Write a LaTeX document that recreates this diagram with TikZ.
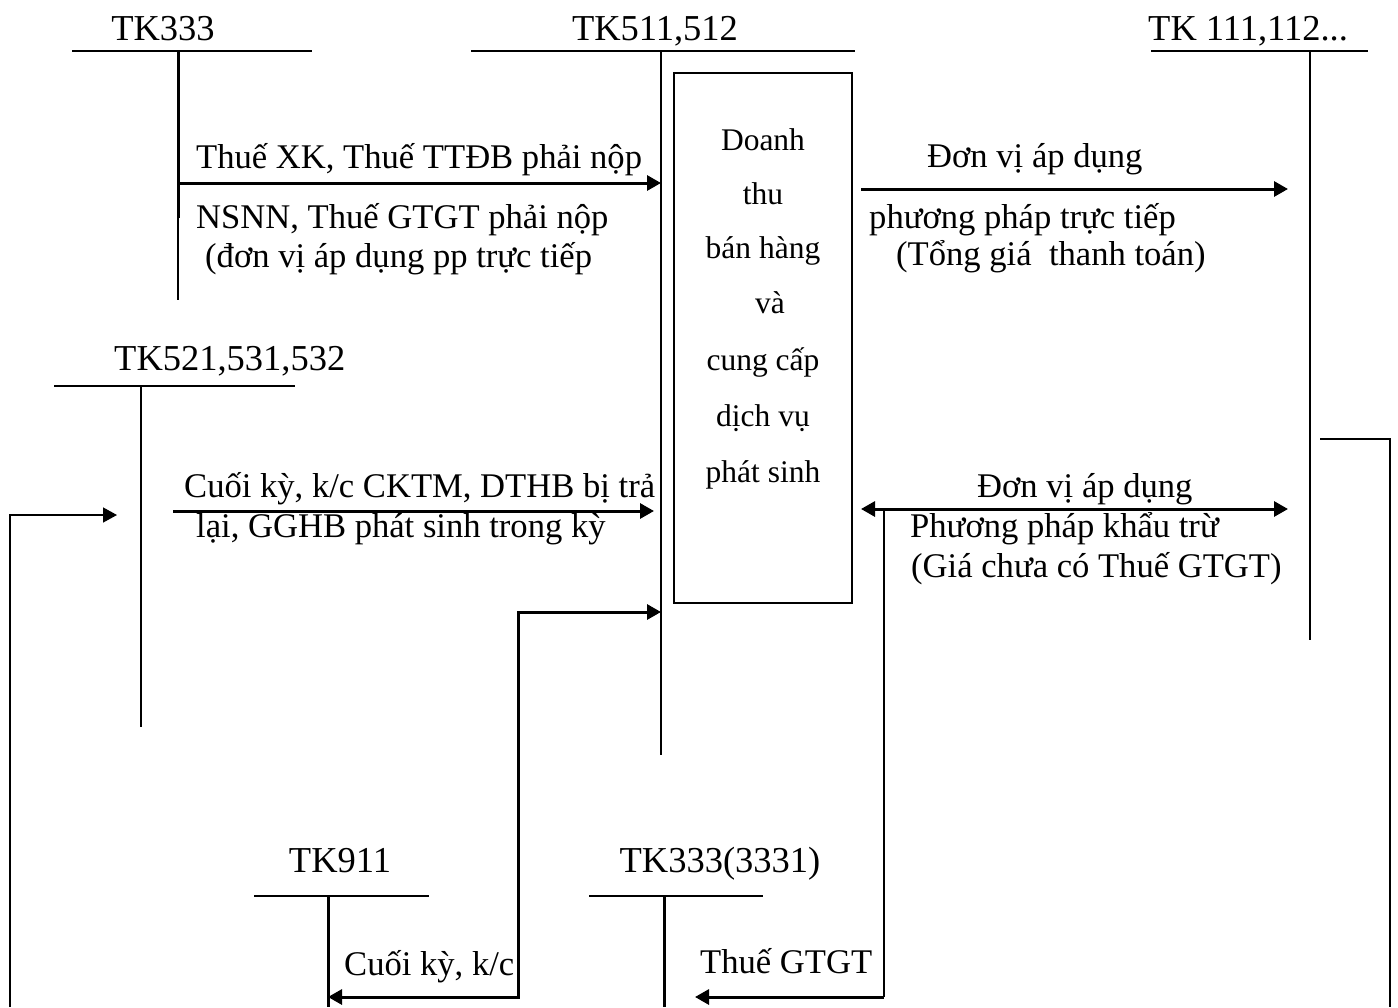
\documentclass[tikz,border=0pt]{standalone}
\usepackage{fontspec}
\setmainfont{Liberation Serif}
\usetikzlibrary{arrows.meta}
\tikzset{
  txt/.style={inner sep=0pt, anchor=base west, font=\fontsize{34.6}{40}\selectfont},
  tklbl/.style={inner sep=0pt, anchor=base, font=\fontsize{36.5}{42}\selectfont},
  boxtxt/.style={inner sep=0pt, anchor=base, font=\fontsize{31.5}{36}\selectfont},
  tline/.style={line width=2pt},
  thickarrow/.style={line width=3pt, -{Triangle[length=14pt,width=15pt]}},
  botharrow/.style={line width=3pt, {Triangle[length=14pt,width=15pt]}-{Triangle[length=14pt,width=15pt]}},
  thinline/.style={line width=1.5pt}
}
\begin{document}
\begin{tikzpicture}[x=1pt,y=-1pt]
\useasboundingbox (0,0) rectangle (1398,1007);

% ---- T-accounts ----
% TK333
\node[tklbl] (tk333) at (163,40) {TK333};
\coordinate (a333t) at (178,51);
\coordinate (a333m) at (178,218);
\coordinate (a333b) at (178,300);
\draw[tline] (72,51) -- (312,51);
\draw[line width=3pt] (a333t) -- (a333m);
\draw[thinline] (a333m) -- (a333b);

% TK511,512
\node[tklbl] (tk511) at (655,40) {TK511,512};
\coordinate (a511t) at (661,51);
\coordinate (a511b) at (661,755);
\draw[tline] (471,51) -- (855,51);
\draw[tline] (a511t) -- (a511b);

% TK 111,112...
\node[tklbl, anchor=base west] (tk111) at (1148,40) {TK 111,112...};
\coordinate (a111t) at (1310,51);
\coordinate (a111b) at (1310,640);
\draw[tline] (1151,51) -- (1368,51);
\draw[tline] (a111t) -- (a111b);

% TK521,531,532
\node[tklbl, anchor=base west] (tk521) at (114,370) {TK521,531,532};
\coordinate (a521t) at (141,386);
\coordinate (a521b) at (141,727);
\draw[tline] (54,386) -- (295,386);
\draw[thinline] (a521t) -- (a521b);

% TK911
\node[tklbl] (tk911) at (340,872) {TK911};
\coordinate (a911t) at (328,896);
\coordinate (a911b) at (328,1007);
\draw[tline] (254,896) -- (429,896);
\draw[line width=3pt] (a911t) -- (a911b);

% TK333(3331)
\node[tklbl] (tk3331) at (720,872) {TK333(3331)};
\coordinate (a3331t) at (664,896);
\coordinate (a3331b) at (664,1007);
\draw[tline] (589,896) -- (763,896);
\draw[line width=3pt] (a3331t) -- (a3331b);

% ---- central box ----
\node[draw, line width=1.8pt, minimum width=178pt, minimum height=530pt, inner sep=0pt] (box) at (763,338) {};
\node[boxtxt] (b1) at (763,150) {Doanh};
\node[boxtxt] (b2) at (763,204) {thu};
\node[boxtxt] (b3) at (763,258) {bán hàng};
\node[boxtxt] (b4) at (770,313) {và};
\node[boxtxt] (b5) at (763,370) {cung cấp};
\node[boxtxt] (b6) at (763,426) {dịch vụ};
\node[boxtxt] (b7) at (763,482) {phát sinh};

% ---- arrows ----
% TK333 -> TK511
\coordinate (p1s) at (178,183);
\coordinate (p1e) at (661,183);
\draw[thickarrow] (p1s) -- (p1e);
\node[txt] (l1a) at (196,168) {Thuế XK, Thuế TTĐB phải nộp};
\node[txt] (l1b) at (196,228) {NSNN, Thuế GTGT phải nộp};
\node[txt] (l1c) at (205,267) {(đơn vị áp dụng pp trực tiếp};

% TK511 -> TK111 (truc tiep)
\coordinate (p2s) at (861,189);
\coordinate (p2e) at (1288,189);
\draw[thickarrow] (p2s) -- (p2e);
\node[txt] (l2a) at (927,167) {Đơn vị áp dụng};
\node[txt] (l2b) at (869,228) {phương pháp trực tiếp};
\node[txt] (l2c) at (896,265) {(Tổng giá~~thanh toán)};

% TK521 -> TK511
\coordinate (p3s) at (173,511);
\coordinate (p3e) at (654,511);
\draw[thickarrow] (p3s) -- (p3e);
\node[txt] (l3a) at (184,497) {Cuối kỳ, k/c CKTM, DTHB bị trả};
\node[txt] (l3b) at (196,537) {lại, GGHB phát sinh trong kỳ};

% khau tru: double arrow
\coordinate (p4s) at (861,509);
\coordinate (p4e) at (1288,509);
\coordinate (p4v) at (884,509);
\draw[botharrow] (p4s) -- (p4e);
\node[txt] (l4a) at (977,497) {Đơn vị áp dụng};
\node[txt] (l4b) at (910,537) {Phương pháp khẩu trừ};
\node[txt] (l4c) at (911,577) {(Giá chưa có Thuế GTGT)};

% left loop into TK521
\coordinate (q1) at (10,1007);
\coordinate (q2) at (10,515);
\coordinate (q3) at (117,515);
\draw[thinline, -{Triangle[length=14pt,width=15pt]}] (q1) -- (q2) -- (q3);

% right loop from TK111
\coordinate (r1) at (1320,439);
\coordinate (r2) at (1390,439);
\coordinate (r3) at (1390,1007);
\draw[thinline] (r1) -- (r2) -- (r3);

% TK511 <-> TK911
\coordinate (s1) at (328,997);
\coordinate (s2) at (518,997);
\coordinate (s3) at (518,612);
\coordinate (s4) at (661,612);
\draw[botharrow] (s1) -- (s2) -- (s3) -- (s4);
\node[txt] (l5) at (344,975) {Cuối kỳ, k/c};

% Thue GTGT to TK3331
\coordinate (t1) at (884,997);
\coordinate (t2) at (695,997);
\draw[thinline] (p4v) -- (t1);
\draw[thickarrow] (t1) -- (t2);
\node[txt] (l6) at (700,973) {Thuế GTGT};
\end{tikzpicture}
\end{document}
